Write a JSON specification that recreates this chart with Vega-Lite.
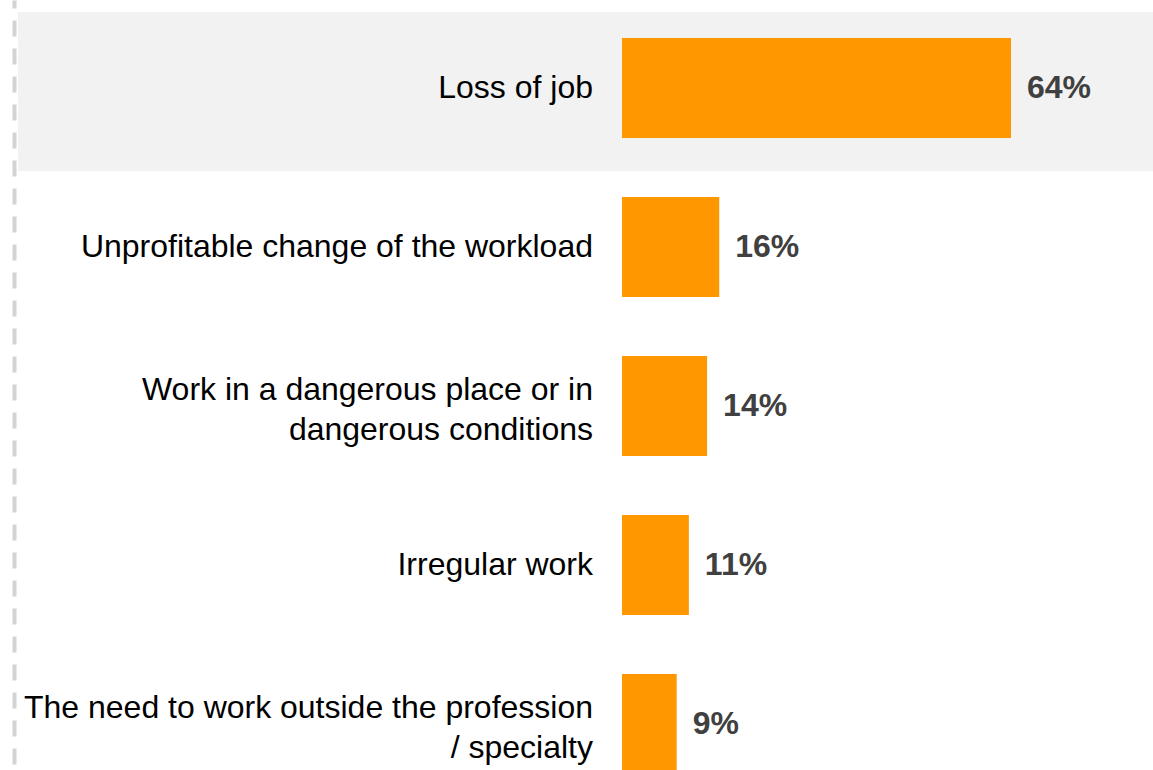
{
  "$schema": "https://vega.github.io/schema/vega-lite/v6.json",
  "autosize": {"type": "none"},
  "padding": {"left": 18, "top": 0, "right": 0, "bottom": 0},
  "width": 1135,
  "height": {"step": 159},
  "background": "white",
  "config": {"view": {"stroke": null}, "font": "Liberation Sans"},
  "data": {
    "values": [
      {"category": "Loss of job", "value": 0.64, "highlight": true},
      {"category": "Unprofitable change of the workload", "value": 0.16, "highlight": false},
      {"category": "Work in a dangerous place or in\ndangerous conditions", "value": 0.14, "highlight": false},
      {"category": "Irregular work", "value": 0.11, "highlight": false},
      {"category": "The need to work outside the profession\n/ specialty", "value": 0.09, "highlight": false}
    ]
  },
  "encoding": {
    "y": {
      "field": "category",
      "type": "nominal",
      "sort": null,
      "scale": {"paddingInner": 0.371, "paddingOuter": 0.239},
      "axis": {
        "title": null,
        "labels": false,
        "ticks": false,
        "grid": false,
        "domain": true,
        "domainColor": "#d3d3d3",
        "domainWidth": 4,
        "domainDash": [16, 12],
        "domainDashOffset": 8,
        "offset": 4
      }
    }
  },
  "layer": [
    {
      "transform": [{"filter": "datum.highlight"}],
      "mark": {"type": "bar", "color": "#f2f2f2", "height": 159, "yOffset": 3.5},
      "encoding": {}
    },
    {
      "mark": {"type": "bar", "color": "#ff9700"},
      "encoding": {
        "x": {
          "field": "value",
          "type": "quantitative",
          "scale": {"domain": [-0.9937, 0.8736], "nice": false, "zero": false},
          "axis": null
        },
        "x2": {"datum": 0}
      }
    },
    {
      "mark": {
        "type": "text",
        "align": "left",
        "baseline": "middle",
        "dx": 16,
        "fontSize": 32,
        "fontWeight": "bold",
        "color": "#404040"
      },
      "encoding": {
        "x": {"field": "value", "type": "quantitative"},
        "text": {"field": "value", "type": "quantitative", "format": ".0%"}
      }
    },
    {
      "transform": [{"filter": "!test(/\\n/, datum.category)"}],
      "mark": {
        "type": "text",
        "align": "right",
        "baseline": "middle",
        "dx": -29,
        "fontSize": 32,
        "color": "#000000"
      },
      "encoding": {
        "x": {"datum": 0},
        "text": {"field": "category"}
      }
    },
    {
      "transform": [{"filter": "test(/\\n/, datum.category)"}],
      "mark": {
        "type": "text",
        "align": "right",
        "baseline": "middle",
        "dx": -29,
        "dy": -16,
        "fontSize": 32,
        "lineBreak": "\n",
        "lineHeight": 40,
        "color": "#000000"
      },
      "encoding": {
        "x": {"datum": 0},
        "text": {"field": "category"}
      }
    }
  ]
}
